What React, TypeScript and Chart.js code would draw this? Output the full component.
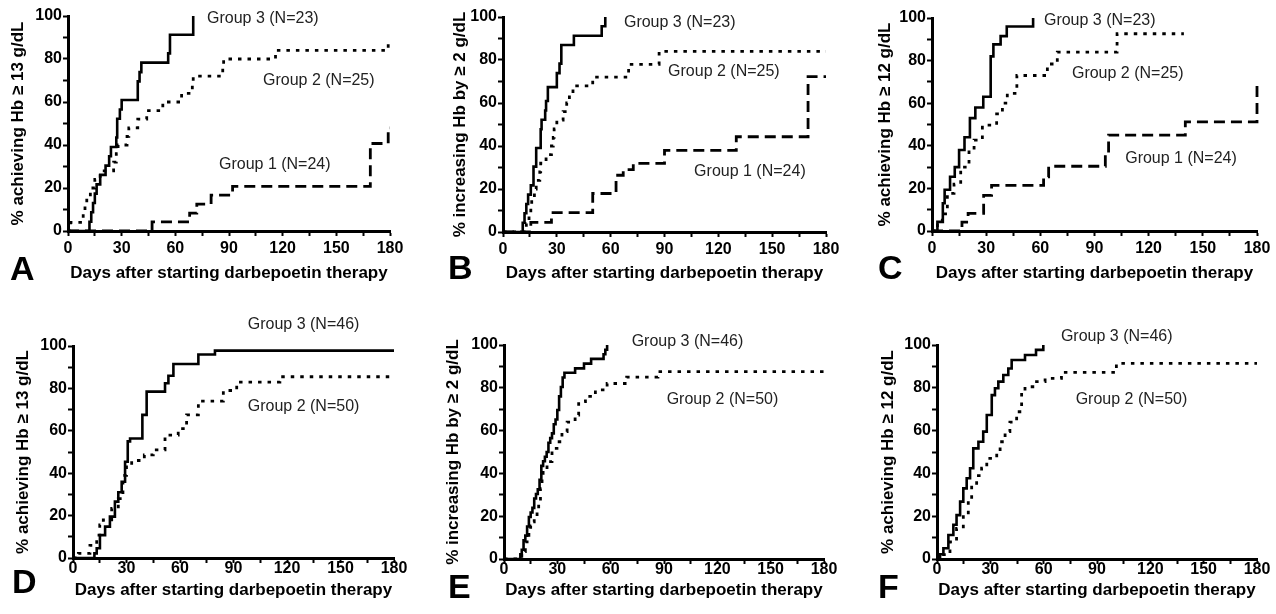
import React, { useEffect, useRef } from "react";
import { Chart, registerables } from "chart.js";

Chart.register(...registerables);

type Pt = [number, number];

// ---------- data: [day, % reached] at each step ----------
const A_G3: Pt[] = [[0, 0], [12, 4.3], [13, 8.7], [14, 13], [15, 17.4], [16, 21.7], [18, 26.1], [21, 30.4], [23, 34.8], [24, 39.1], [27, 43.5], [27.5, 52.2], [29, 56.5], [30, 60.9], [39, 69.6], [40, 73.9], [41, 78.3], [56, 82.6], [57, 91.3], [70, 100]];
const A_G2: Pt[] = [[0, 0], [1.5, 4], [8.5, 8], [9.5, 12], [10.5, 16], [12.5, 20], [15, 24], [18, 28], [25.5, 32], [27, 36], [28, 40], [33, 44], [34, 48], [39, 52], [44, 56], [53, 60], [63.5, 64], [69.5, 68], [70, 72], [86.5, 76], [87, 80], [116, 84], [179, 88], [180, 88]];
const A_G1: Pt[] = [[0, 0], [47, 4.2], [68, 8.3], [72, 12.5], [80, 16.7], [92, 20.8], [169, 40.7], [179, 48], [180, 48]];

const B_G3: Pt[] = [[0, 0], [11, 4.3], [12, 8.7], [13, 13], [14, 17.4], [15.5, 21.7], [17, 30.4], [18.5, 39.1], [21, 47.8], [21.5, 52.2], [23.5, 56.5], [24, 60.9], [25, 67.4], [30, 73.9], [31.5, 78.3], [32.5, 87], [39.5, 91.3], [55, 95.7], [57, 100]];
const B_G2: Pt[] = [[0, 0], [13, 4], [14.5, 8], [15.5, 12], [16, 16], [17.5, 20], [18.5, 24], [20.5, 28], [21, 32], [24, 36], [27, 40], [28, 44], [28.5, 48], [30, 52], [33.5, 56], [35.5, 60], [37, 64], [39, 68], [50, 72], [70, 78], [87, 84], [180, 84]];
const B_G1: Pt[] = [[0, 0], [15.5, 4.5], [27, 9], [50, 17.9], [63, 26.4], [67, 29], [72.6, 31.9], [90, 38], [130, 44.3], [170, 72.3], [180, 72.3]];

const C_G3: Pt[] = [[0, 0], [3, 4.3], [6, 13], [7, 19.4], [10, 25.5], [12.6, 30], [15, 38], [18, 44], [21, 53], [24, 58], [28.4, 63], [32.5, 82], [34, 87.6], [38, 91.5], [41.4, 96], [56, 100]];
const C_G2: Pt[] = [[0, 0], [3, 4], [5.7, 8], [8.5, 17.7], [12.2, 22], [15.9, 30], [20.5, 38], [23.3, 42.7], [27.9, 49.7], [35.8, 55], [39, 60], [41.7, 64.6], [47, 73], [63.9, 78.4], [69.4, 84], [102.5, 92.6], [139.5, 92.6]];
const C_G1: Pt[] = [[0, 0], [16.6, 4.2], [20, 8.3], [28.6, 16.7], [33, 21.4], [61.8, 25.4], [64.6, 30.4], [96, 36.3], [97.8, 45], [140.3, 51.2], [180, 69]];

const D_G3: Pt[] = [[0, 0], [12, 2.2], [13.3, 4.6], [15.1, 10.8], [18, 14.8], [20.7, 19.5], [23.5, 26.6], [25.4, 31], [27.3, 36], [29.2, 45.4], [30.7, 55], [32, 56.4], [38.9, 67.5], [41.3, 78.5], [51.6, 82.4], [53.5, 86], [56.3, 91.5], [70.3, 96], [79.6, 97.8], [180, 97.8]];
const D_G2: Pt[] = [[0, 0], [3, 2.2], [9.5, 6], [13.3, 10.8], [15, 15.6], [17, 18], [21.7, 23.4], [25.4, 28], [28, 39], [30, 44], [32.9, 46], [40, 48.6], [45, 51], [51.6, 58], [59, 61], [63.7, 67.5], [70.3, 74], [84.3, 79], [91.8, 83], [116, 85.5], [180, 85.5]];

const E_G3: Pt[] = [[0, 0], [9.2, 2.2], [10, 4.3], [11, 8.7], [12, 10.9], [13, 15.2], [14, 19.6], [15, 21.7], [16, 23.9], [17, 28.3], [18, 30.4], [19, 32.6], [20, 37], [21, 43.5], [22, 45.7], [23, 47.8], [24, 50], [25, 54.3], [26, 56.5], [27, 58.7], [28, 63], [29, 65.2], [30, 69.6], [31, 76], [32, 80.4], [33, 84.8], [34, 87], [40, 89.1], [45, 91.3], [49, 93.5], [56, 95.7], [57, 97.8], [58, 100]];
const E_G2: Pt[] = [[0, 0], [10, 3.4], [12, 8], [13, 11], [14, 13], [15, 15.5], [16, 17.4], [17, 20], [18.6, 23.7], [19.5, 28], [20.5, 33], [21.4, 40], [22, 42], [24.2, 45.5], [27, 51.7], [29.8, 54.8], [32.6, 59.5], [35.5, 64], [40, 67.3], [42, 73.5], [45.8, 76], [51.4, 79], [58, 82], [69, 85], [86.6, 87.6], [180, 87.6]];

const F_G3: Pt[] = [[0, 0], [1.7, 2.2], [3.6, 5], [6.4, 11.2], [9.2, 16], [11, 20.5], [13, 26.8], [14.8, 33], [16.7, 37.7], [18.6, 42.4], [20.4, 51.7], [23.3, 54.8], [26, 59.5], [28, 67.3], [30.8, 76.6], [32.6, 79.8], [34.5, 82.9], [37.3, 86], [40.1, 89], [42, 93], [49.5, 95.3], [55.7, 97.7], [59.8, 100]];
const F_G2: Pt[] = [[0, 0], [2.6, 2], [7.3, 8], [11, 14.3], [14.8, 20.5], [17.6, 28], [19.5, 34.6], [22.3, 39], [25.1, 42.4], [28, 47], [33.6, 49.4], [35.5, 54.8], [38.3, 59.5], [41, 64], [44.8, 68.8], [47.6, 78], [49.5, 80.5], [56, 82.9], [60.8, 84.4], [70, 87.2], [100.9, 91.4], [180, 91.4]];

const X_TICK_LABELS = ["0", "30", "60", "90", "120", "150", "180"];
const Y_TICK_LABELS = ["0", "20", "40", "60", "80", "100"];
const X_TITLE = "Days after starting darbepoetin therapy";

type Style = "solid" | "dot" | "dash";
interface Label { text: string; day: number; pct: number; }
interface Panel {
  letter: string;
  left: number; top: number; w: number; h: number;
  area: { l: number; r: number; t: number; b: number };
  yTitle: string; yTitleX: number; xTitleY: number; xTickPad: number;
  letterPos: { x: number; y: number };
  series: { data: Pt[]; style: Style }[];
  labels: Label[];
}

const PANELS: Panel[] = [
  {
    letter: "A", left: 0, top: 0, w: 420, h: 300, area: { l: 68, r: 390, t: 16, b: 231 },
    yTitle: "% achieving Hb \u2265 13 g/dL", yTitleX: 18, xTitleY: 273, xTickPad: 3, letterPos: { x: 10, y: 280 },
    series: [{ data: A_G3, style: "solid" }, { data: A_G2, style: "dot" }, { data: A_G1, style: "dash" }],
    labels: [{ text: "Group 3 (N=23)", day: 77.7, pct: 99 }, { text: "Group 2 (N=25)", day: 109, pct: 70 }, { text: "Group 1 (N=24)", day: 84.4, pct: 30.7 }],
  },
  {
    letter: "B", left: 420, top: 0, w: 430, h: 300, area: { l: 83, r: 406, t: 17, b: 232 },
    yTitle: "% increasing Hb by \u2265 2 g/dL", yTitleX: 40, xTitleY: 273, xTickPad: 3, letterPos: { x: 28, y: 279 },
    series: [{ data: B_G3, style: "solid" }, { data: B_G2, style: "dot" }, { data: B_G1, style: "dash" }],
    labels: [{ text: "Group 3 (N=23)", day: 67.4, pct: 97.3 }, { text: "Group 2 (N=25)", day: 92, pct: 74.6 }, { text: "Group 1 (N=24)", day: 106.5, pct: 28 }],
  },
  {
    letter: "C", left: 850, top: 0, w: 426, h: 300, area: { l: 82, r: 407, t: 18, b: 231 },
    yTitle: "% achieving Hb \u2265 12 g/dL", yTitleX: 35, xTitleY: 273, xTickPad: 3, letterPos: { x: 28, y: 279 },
    series: [{ data: C_G3, style: "solid" }, { data: C_G2, style: "dot" }, { data: C_G1, style: "dash" }],
    labels: [{ text: "Group 3 (N=23)", day: 62, pct: 99 }, { text: "Group 2 (N=25)", day: 77.5, pct: 74 }, { text: "Group 1 (N=24)", day: 107, pct: 34 }],
  },
  {
    letter: "D", left: 0, top: 310, w: 420, h: 304, area: { l: 73, r: 394, t: 36, b: 248 },
    yTitle: "% achieving Hb \u2265 13 g/dL", yTitleX: 23, xTitleY: 280, xTickPad: -4, letterPos: { x: 12, y: 283 },
    series: [{ data: D_G3, style: "solid" }, { data: D_G2, style: "dot" }],
    labels: [{ text: "Group 3 (N=46)", day: 98, pct: 110 }, { text: "Group 2 (N=50)", day: 98, pct: 71.4 }],
  },
  {
    letter: "E", left: 420, top: 310, w: 430, h: 304, area: { l: 84, r: 404, t: 35, b: 249 },
    yTitle: "% increasing Hb by \u2265 2 g/dL", yTitleX: 33, xTitleY: 280, xTickPad: -4, letterPos: { x: 28, y: 288 },
    series: [{ data: E_G3, style: "solid" }, { data: E_G2, style: "dot" }],
    labels: [{ text: "Group 3 (N=46)", day: 71.8, pct: 101.5 }, { text: "Group 2 (N=50)", day: 91.5, pct: 74.3 }],
  },
  {
    letter: "F", left: 850, top: 310, w: 426, h: 304, area: { l: 87, r: 407, t: 35, b: 249 },
    yTitle: "% achieving Hb \u2265 12 g/dL", yTitleX: 38, xTitleY: 280, xTickPad: -4, letterPos: { x: 28, y: 288 },
    series: [{ data: F_G3, style: "solid" }, { data: F_G2, style: "dot" }],
    labels: [{ text: "Group 3 (N=46)", day: 69.7, pct: 104 }, { text: "Group 2 (N=50)", day: 78, pct: 74.3 }],
  },
];

const FONT = "'Liberation Sans', Arial, Helvetica, sans-serif";
const DASHES: Record<Style, number[]> = { solid: [], dot: [3.5, 6], dash: [11, 6] };

function PanelChart({ p }: { p: Panel }) {
  const ref = useRef<HTMLCanvasElement | null>(null);
  useEffect(() => {
    if (!ref.current) return;
    const titleLH = 17 * 1.2;
    const annot = {
      id: "annot" + p.letter,
      afterDraw(chart: any) {
        const ctx = chart.ctx as CanvasRenderingContext2D;
        const xs = chart.scales.x, ys = chart.scales.y;
        ctx.save();
        ctx.fillStyle = "#222";
        ctx.font = `16px ${FONT}`;
        ctx.textAlign = "left";
        ctx.textBaseline = "middle";
        p.labels.forEach((l) => {
          ctx.fillText(l.text, xs.getPixelForValue(l.day), ys.getPixelForValue(l.pct));
        });
        ctx.fillStyle = "#000";
        ctx.font = `bold 34px ${FONT}`;
        ctx.textBaseline = "alphabetic";
        ctx.fillText(p.letter, p.letterPos.x, p.letterPos.y);
        ctx.restore();
      },
    };
    const chart = new Chart(ref.current, {
      type: "line",
      data: {
        datasets: p.series.map((s) => ({
          data: s.data.map(([x, y]) => ({ x, y })),
          borderColor: "#000",
          borderWidth: s.style === "solid" ? 2.6 : 2.8,
          borderDash: DASHES[s.style],
          pointRadius: 0,
          stepped: true,
          fill: false,
          clip: false as any,
        })),
      },
      options: {
        responsive: false,
        animation: false,
        devicePixelRatio: 1,
        layout: { padding: { top: p.area.t, right: p.w - p.area.r, left: 0, bottom: 0 } },
        plugins: { legend: { display: false }, tooltip: { enabled: false } },
        scales: {
          x: {
            type: "linear", min: 0, max: 180,
            ticks: {
              stepSize: 15, autoSkip: false, maxRotation: 0, padding: p.xTickPad,
              color: "#000", font: { family: FONT, size: 16, weight: "bold" },
              callback: (v: any) => (Number(v) % 30 === 0 ? X_TICK_LABELS[Number(v) / 30] : ""),
            },
            grid: { drawOnChartArea: false, drawTicks: true, tickLength: 5, tickWidth: 2, color: "#000" },
            border: { display: true, color: "#000", width: 3 },
            title: {
              display: true, text: X_TITLE, color: "#000",
              font: { family: FONT, size: 17, weight: "bold" },
              padding: { top: 0, bottom: p.h - p.xTitleY - titleLH / 2 },
            },
            afterFit: (s: any) => { s.height = p.h - p.area.b; },
          },
          y: {
            type: "linear", min: 0, max: 100,
            ticks: {
              stepSize: 10, autoSkip: false, padding: 1,
              color: "#000", font: { family: FONT, size: 16, weight: "bold" },
              callback: (v: any) => (Number(v) % 20 === 0 ? Y_TICK_LABELS[Number(v) / 20] : ""),
            },
            grid: { drawOnChartArea: false, drawTicks: true, tickLength: 5, tickWidth: 2, color: "#000" },
            border: { display: true, color: "#000", width: 3 },
            title: {
              display: true, text: p.yTitle, color: "#000",
              font: { family: FONT, size: 17, weight: "bold" },
              padding: { top: p.yTitleX - titleLH / 2, bottom: 0 },
            },
            afterFit: (s: any) => { s.width = p.area.l; },
          },
        },
      },
      plugins: [annot],
    } as any);
    return () => chart.destroy();
  }, [p]);
  return (
    <canvas
      ref={ref}
      width={p.w}
      height={p.h}
      style={{ position: "absolute", left: p.left, top: p.top, width: p.w, height: p.h }}
    />
  );
}

export default function App() {
  return (
    <div style={{ position: "fixed", left: 0, top: 0, width: 1276, height: 614, background: "#fff", overflow: "hidden" }}>
      {PANELS.map((p) => (
        <PanelChart key={p.letter} p={p} />
      ))}
    </div>
  );
}
